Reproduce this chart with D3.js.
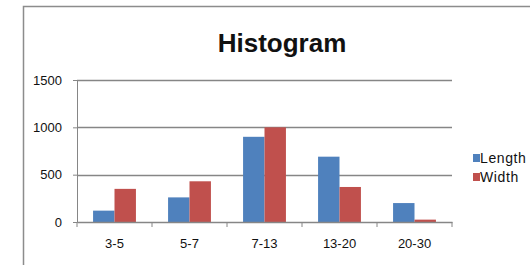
<!DOCTYPE html>
<html>
<head>
<meta charset="utf-8">
<script src="https://cdn.jsdelivr.net/npm/d3@7"></script>
<style>
  body { margin: 0; background: #fff; }
  svg { display: block; font-family: "Liberation Sans", Arial, sans-serif; }
</style>
</head>
<body>
<div id="chart"></div>
<script>
// Histogram data
var categories = ['3-5', '5-7', '7-13', '13-20', '20-30'];
var seriesNames = ['Length', 'Width'];
var lengthValues = [120, 260, 900, 690, 200];
var widthValues = [350, 430, 1000, 370, 25];
var yTicks = [0, 500, 1000, 1500];
var colors = ['#4F81BD', '#C0504D'];

var width = 530;
var height = 265;
var margin = { top: 80, left: 77, right: 78, bottom: 43 };

var svg = d3.select('#chart')
    .append('svg')
    .attr('width', width)
    .attr('height', height);

// chart border (runs off the right and bottom edges)
svg.append('rect')
    .attr('x', 23.5)
    .attr('y', 6.5)
    .attr('width', 600)
    .attr('height', 400)
    .attr('fill', '#fff')
    .attr('stroke', '#8c8c8c')
    .attr('stroke-width', 1.5);

var x0 = d3.scaleBand()
    .domain(categories)
    .range([margin.left, width - margin.right]);

var x1 = d3.scaleBand()
    .domain(seriesNames)
    .range([0, x0.bandwidth()])
    .paddingInner(0)
    .paddingOuter(0.75);

var y = d3.scaleLinear()
    .domain([0, 1500])
    .range([height - margin.bottom, margin.top]);

// gridlines
svg.append('g')
    .selectAll('line')
    .data(yTicks.slice(1))
    .enter()
    .append('line')
    .attr('x1', margin.left)
    .attr('x2', width - margin.right)
    .attr('y1', d => Math.round(y(d)) + 0.5)
    .attr('y2', d => Math.round(y(d)) + 0.5)
    .attr('stroke', '#868686')
    .attr('stroke-width', 1.3);

// y axis
var yAxis = svg.append('g')
    .attr('transform', 'translate(' + margin.left + ',0)')
    .call(d3.axisLeft(y).tickValues(yTicks).tickSize(4).tickPadding(11).tickFormat(d3.format('d')));
yAxis.select('.domain').attr('stroke', '#868686');
yAxis.selectAll('.tick line').attr('stroke', '#868686');
yAxis.selectAll('text')
    .attr('font-size', 13)
    .attr('fill', '#111')
    .attr('font-family', '"Liberation Sans", Arial, sans-serif');

// bars
var rows = categories.map((c, i) => ({ cat: c, vals: [lengthValues[i], widthValues[i]] }));
svg.append('g')
    .selectAll('g')
    .data(rows)
    .enter()
    .append('g')
    .attr('transform', d => 'translate(' + x0(d.cat) + ',0)')
    .selectAll('rect')
    .data(d => d.vals.map((v, j) => ({ name: seriesNames[j], value: v, color: colors[j] })))
    .enter()
    .append('rect')
    .attr('x', d => x1(d.name))
    .attr('width', x1.bandwidth())
    .attr('y', d => y(d.value))
    .attr('height', d => y(0) - y(d.value))
    .attr('fill', d => d.color);

// x axis
var xAxis = svg.append('g')
    .attr('transform', 'translate(0,' + (height - margin.bottom) + ')')
    .call(d3.axisBottom(x0).tickSize(0).tickPadding(17));
xAxis.select('.domain').attr('stroke', '#868686').attr('stroke-width', 1.3);
xAxis.selectAll('text')
    .attr('font-size', 13)
    .attr('fill', '#111')
    .attr('font-family', '"Liberation Sans", Arial, sans-serif');

// category separator ticks
var edges = categories.map(c => x0(c)).concat([width - margin.right]);
svg.append('g')
    .selectAll('line')
    .data(edges)
    .enter()
    .append('line')
    .attr('x1', d => d)
    .attr('x2', d => d)
    .attr('y1', y(0))
    .attr('y2', y(0) + 5)
    .attr('stroke', '#868686');

// title
svg.append('text')
    .attr('x', 282)
    .attr('y', 52)
    .attr('text-anchor', 'middle')
    .attr('font-size', 26)
    .attr('font-weight', 'bold')
    .attr('fill', '#111')
    .text('Histogram');

// legend
var legend = svg.append('g')
    .attr('transform', 'translate(473,154)');
seriesNames.forEach((name, i) => {
    legend.append('rect')
        .attr('x', 0)
        .attr('y', i * 19)
        .attr('width', 7)
        .attr('height', 8)
        .attr('fill', colors[i]);
    legend.append('text')
        .attr('x', 7)
        .attr('y', i * 19 + 9)
        .attr('font-size', 14)
        .attr('letter-spacing', 0.6)
        .attr('fill', '#111')
        .text(name);
});
</script>
</body>
</html>
